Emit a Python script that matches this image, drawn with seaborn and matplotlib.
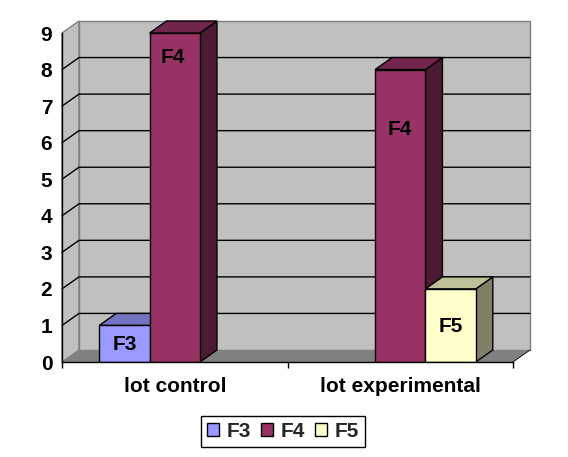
import matplotlib
matplotlib.use("Agg")
import matplotlib.pyplot as plt
import pandas as pd
import seaborn as sns
from matplotlib.colors import to_rgb
from matplotlib.patches import Polygon

# chart values
groups = ["lot control", "lot control", "lot experimental", "lot experimental"]
series = ["F3", "F4", "F4", "F5"]
values = [1, 9, 8, 2]
series_order = ["F3", "F4", "F5"]
colors = ["#9999FF", "#993366", "#FFFFCC"]
y_ticks = [0, 1, 2, 3, 4, 5, 6, 7, 8, 9]
label_heights = [0.47, 8.34, 6.37, 0.96]
label_shifts = [0.002, -0.01, 0.0, 0.002]

sns.set_theme(style="white")
plt.rcParams["font.family"] = ["Liberation Sans"]
plt.rcParams["font.weight"] = "bold"
font_size = 15

df = pd.DataFrame({"group": groups, "series": series, "value": values})

fig = plt.figure(figsize=(5.68, 4.57), dpi=100, facecolor="white")
ax = fig.add_axes([62 / 568, 1 - 362 / 457, 451 / 568, 329 / 457])
ax.set_facecolor("none")

sns.barplot(data=df, x="group", y="value", hue="series", hue_order=series_order,
            palette=colors, width=0.67, gap=0, saturation=1, edgecolor="black",
            linewidth=1, ax=ax)
ax.set_xlim(-0.5, 1.5)
ax.set_ylim(0, 9)
ax.set_xlabel("")
ax.set_ylabel("")

# grab the bars before adding the 3d faces
bars = [b for c in ax.containers for b in c if b.get_height() > 0]
bars = sorted(bars, key=lambda p: p.get_x())

# how far the 3d depth goes, in data units
dx = 17 / 225.5
dy = 12 / 36.55


def shade(color, amount):
    r, g, b = to_rgb(color)
    return (r * amount, g * amount, b * amount)


# walls and floor
left_wall = [(-0.5, 0), (-0.5 + dx, dy), (-0.5 + dx, 9 + dy), (-0.5, 9)]
back_wall = [(-0.5 + dx, dy), (1.5 + dx, dy), (1.5 + dx, 9 + dy), (-0.5 + dx, 9 + dy)]
floor = [(-0.5, 0), (-0.5 + dx, dy), (1.5 + dx, dy), (1.5, 0)]
ax.add_patch(Polygon(left_wall, fc="#C0C0C0", ec="#808080", lw=1, clip_on=False, zorder=0.5))
ax.add_patch(Polygon(back_wall, fc="#C0C0C0", ec="#808080", lw=1, clip_on=False, zorder=0.6))
ax.add_patch(Polygon(floor, fc="#808080", ec="none", clip_on=False, zorder=0.7))

# grid on side and back wall
for t in y_ticks[1:-1]:
    ax.plot([-0.5, -0.5 + dx, 1.5 + dx], [t, t + dy, t + dy], color="black", lw=1,
            clip_on=False, zorder=0.8)
ax.plot([1.5, 1.5 + dx], [0, dy], color="black", lw=0.6, clip_on=False, zorder=0.8)

# side and top of every bar, left to right so the fronts overlap properly
for i, bar in enumerate(bars):
    x0 = bar.get_x()
    x1 = x0 + bar.get_width()
    h = bar.get_height()
    col = bar.get_facecolor()[:3]
    z = 2 + i
    side = [(x1, 0), (x1 + dx, dy), (x1 + dx, h + dy), (x1, h)]
    top = [(x0, h), (x0 + dx, h + dy), (x1 + dx, h + dy), (x1, h)]
    ax.add_patch(Polygon(side, fc=shade(col, 0.5), ec="black", lw=1, clip_on=False, zorder=z))
    ax.add_patch(Polygon(top, fc=shade(col, 0.75), ec="black", lw=1, clip_on=False, zorder=z))
    bar.set_zorder(z + 0.1)
    ax.text((x0 + x1) / 2 + label_shifts[i], label_heights[i], series[i], ha="center", va="center",
            fontsize=font_size, fontweight="bold", color="black", zorder=20)

# axes
sns.despine(ax=ax)
for side_name in ["left", "bottom"]:
    ax.spines[side_name].set_color("black")
    ax.spines[side_name].set_linewidth(1)
    ax.spines[side_name].set_zorder(10)
ax.set_yticks(y_ticks)
ax.tick_params(axis="y", length=0, pad=7, labelsize=font_size, colors="black")
ax.tick_params(axis="x", which="major", length=0, pad=11, labelsize=font_size, colors="black")
ax.set_xticks([-0.5, 0.5, 1.5], minor=True)
ax.tick_params(axis="x", which="minor", length=4, width=1, color="black", bottom=True)
for label in ax.get_xticklabels() + ax.get_yticklabels():
    label.set_fontweight("bold")

sns.move_legend(ax, "center", bbox_to_anchor=(283 / 568, 1 - 431.5 / 457),
                bbox_transform=fig.transFigure, ncol=3, title=None, frameon=True,
                fancybox=False, edgecolor="black", framealpha=1, fontsize=font_size,
                handlelength=0.58, handleheight=0.58, handletextpad=0.35,
                columnspacing=0.5, borderpad=0.3, borderaxespad=0)
legend = ax.get_legend()
legend.get_frame().set_linewidth(1)
for txt in legend.get_texts():
    txt.set_fontweight("bold")

fig.savefig("out.png", dpi=100, facecolor="white")
